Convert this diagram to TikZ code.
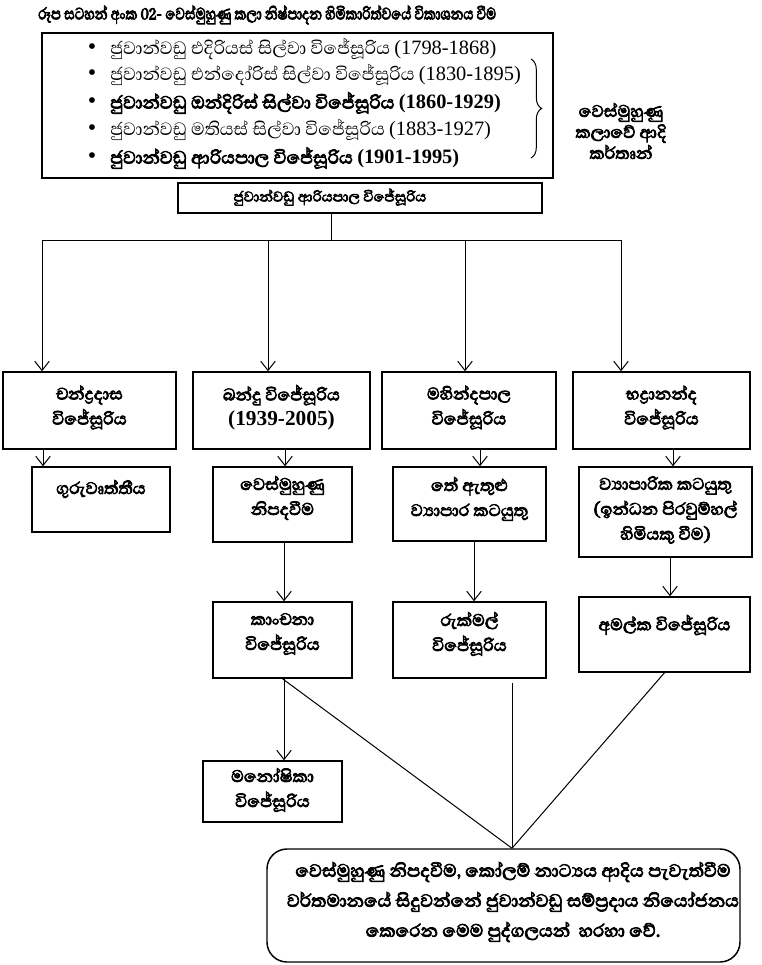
\documentclass[tikz,border=0pt]{standalone}
\usepackage{fontspec}
\setmainfont{Abhaya Libre}[Script=Sinhala, AutoFakeBold=3.5]
\newfontfamily\titlefont{Abhaya Libre}[Script=Sinhala, AutoFakeBold=3.5, FakeStretch=0.78]
\newfontfamily\lat{Liberation Serif}
\usetikzlibrary{arrows.meta,decorations.pathreplacing}
\tikzset{
  frame/.style={draw, line width=1.1pt, inner sep=0pt},
  txt/.style={align=center, inner sep=0pt, font=\bfseries\fontsize{16}{18.75}\selectfont},
  arr/.style={-{Straight Barb[length=7pt,width=11pt]}, line width=0.75pt},
  ln/.style={line width=0.75pt},
  li/.style={anchor=west, inner sep=0pt, font=\fontsize{17}{20}\selectfont},
  lib/.style={anchor=west, inner sep=0pt, font=\bfseries\fontsize{17}{20}\selectfont},
  bul/.style={inner sep=0pt, font=\lat\fontsize{18}{20}\selectfont},
}
\newcommand{\yr}[1]{{\lat\fontsize{15.3}{20}\selectfont #1}}
\begin{document}
\begin{tikzpicture}[x=0.75pt,y=-0.75pt]
\useasboundingbox (0,0) rectangle (762,965);
% title
\node[anchor=west, inner sep=0pt, font=\titlefont\bfseries\fontsize{16}{18}\selectfont] (title) at (38,15)
  {රූප සටහන් අංක 02- වෙස්මුහුණු කලා නිෂ්පාදන හිමිකාරිත්වයේ විකාශනය වීම};
% list box
\node[frame, minimum width=383.25pt, minimum height=108.75pt] (lst) at (297.5,105.5) {};
\node[bul] (b1) at (92,49) {•};
\node[bul] (b2) at (92,75) {•};
\node[bul] (b3) at (92,103) {•};
\node[bul] (b4) at (92,130) {•};
\node[bul] (b5) at (92,158) {•};
\node[li]  (l1) at (110,49) {ජුවාන්වඩු එදිරියස් සිල්වා විජේසූරිය \yr{(1798-1868)}};
\node[li]  (l2) at (110,75) {ජුවාන්වඩු එන්දෝරිස් සිල්වා විජේසූරිය \yr{(1830-1895)}};
\node[lib] (l3) at (110,103) {ජුවාන්වඩු ඔන්දිරිස් සිල්වා විජේසූරිය {\bfseries\yr{(1860-1929)}}};
\node[li]  (l4) at (110,130) {ජුවාන්වඩු මතියස් සිල්වා විජේසූරිය \yr{(1883-1927)}};
\node[lib] (l5) at (110,158) {ජුවාන්වඩු ආරියපාල විජේසූරිය {\bfseries\yr{(1901-1995)}}};
\coordinate (bt) at (531,59);
\coordinate (bb) at (531,158);
\draw[ln, decorate, decoration={brace, amplitude=8pt}] (bt) -- (bb);
\node[txt, font=\bfseries\fontsize{16}{15.75}\selectfont] (kt) at (621,131) {වෙස්මුහුණු\\කලාවේ ආදි\\කර්තෘන්};
% main box
\node[frame, minimum width=273pt, minimum height=22.5pt] (ari) at (360,198) {};
\node[txt, font=\bfseries\fontsize{13.5}{16}\selectfont] (arit) at (330,197) {ජුවාන්වඩු ආරියපාල විජේසූරිය};
% distribution line
\coordinate (hj) at (331,240);
\coordinate (h1) at (42,240);
\coordinate (h2) at (268,240);
\coordinate (h3) at (465,240);
\coordinate (h4) at (621,240);
\draw[ln] (ari.south -| hj) -- (hj);
\draw[ln] (h1) -- (h4);
% row 2
\node[frame, minimum width=129.75pt, minimum height=57.75pt] (A) at (89.5,410.5) {};
\node[frame, minimum width=132.75pt, minimum height=57.75pt] (B) at (281.5,410.5) {};
\node[frame, minimum width=130.5pt, minimum height=57.75pt] (C) at (469,410.5) {};
\node[frame, minimum width=132.75pt, minimum height=57.75pt] (D) at (661.5,410.5) {};
\node[txt] (At) at (89.5,407.5) {චන්ද්‍රදාස\\විජේසූරිය};
\node[txt] (Bt) at (281.5,407.5) {බන්දු විජේසූරිය\\{\lat\bfseries (1939-2005)}};
\node[txt] (Ct) at (469,407.5) {මහින්දපාල\\විජේසූරිය};
\node[txt] (Dt) at (661.5,407.5) {භද්‍රානන්ද\\විජේසූරිය};
\draw[arr] (h1) -- (h1 |- A.north);
\draw[arr] (h2) -- (h2 |- B.north);
\draw[arr] (h3) -- (h3 |- C.north);
\draw[arr] (h4) -- (h4 |- D.north);
% row 3
\node[frame, minimum width=103.5pt, minimum height=48.75pt] (GW) at (101,499.5) {};
\node[frame, minimum width=104.25pt, minimum height=56.25pt] (NP) at (282.5,504.5) {};
\node[frame, minimum width=114.75pt, minimum height=55.5pt] (TE) at (469.5,504) {};
\node[frame, minimum width=129.75pt, minimum height=67.5pt] (VK) at (665.5,512) {};
\node[txt] (GWt) at (101,489) {ගුරුවෘත්තීය};
\node[txt] (NPt) at (282.5,498) {වෙස්මුහුණු\\නිපදවීම};
\node[txt] (TEt) at (469.5,499) {තේ ඇතුළු\\ව්‍යාපාර කටයුතු};
\node[txt] (VKt) at (665.5,510) {ව්‍යාපාරික කටයුතු\\(ඉන්ධන පිරවුම්හල්\\හිමියකු වීම)};
\coordinate (xa) at (43,0);
\coordinate (xb) at (285,0);
\coordinate (xc) at (480,0);
\coordinate (xd) at (673,0);
\draw[arr] (A.south -| xa) -- (GW.north -| xa);
\draw[arr] (B.south -| xb) -- (NP.north -| xb);
\draw[arr] (C.south -| xc) -- (TE.north -| xc);
\draw[arr] (D.south -| xd) -- (VK.north -| xd);
% row 4
\node[frame, minimum width=104.25pt, minimum height=57pt] (KA) at (282.5,640) {};
\node[frame, minimum width=114.75pt, minimum height=57pt] (RU) at (469.5,640) {};
\node[frame, minimum width=128.25pt, minimum height=56.25pt] (AM) at (664.5,634.5) {};
\node[txt] (KAt) at (282.5,634) {කාංචනා\\විජේසූරිය};
\node[txt] (RUt) at (469.5,634) {රුක්මල්\\විජේසූරිය};
\node[txt] (AMt) at (664.5,625) {අමල්ක විජේසූරිය};
\coordinate (xe) at (284,0);
\coordinate (xf) at (474,0);
\coordinate (xg) at (670,0);
\draw[arr] (NP.south -| xe) -- (KA.north -| xe);
\draw[arr] (TE.south -| xf) -- (RU.north -| xf);
\draw[arr] (VK.south -| xg) -- (AM.north -| xg);
% row 5
\node[frame, minimum width=104.25pt, minimum height=45.75pt] (MA) at (272.5,791.5) {};
\node[txt] (MAt) at (272.5,790) {මනෝෂිකා\\විජේසූරිය};
\draw[arr] (KA.south -| xe) -- (MA.north -| xe);
% bottom box
\node[frame, rounded corners=15pt, minimum width=354.75pt, minimum height=84.75pt] (BT) at (503.5,905.5) {};
\node[txt, font=\bfseries\fontsize{17}{22.5}\selectfont] (BTt) at (513,902)
  {වෙස්මුහුණු නිපදවීම, කෝලම් නාට්‍යය ආදිය පැවැත්වීම\\වර්තමානයේ සිදුවන්නේ ජුවාන්වඩු සම්ප්‍රදාය නියෝජනය\\කෙරෙන මෙම පුද්ගලයන්~~හරහා වේ.};
\coordinate (xcv) at (512,0);
\coordinate (cv) at (BT.north -| xcv);
\coordinate (rm) at (512,683);
\draw[ln] (KA.south) -- (cv);
\draw[ln] (rm) -- (cv);
\draw[ln] (AM.south) -- (cv);
\end{tikzpicture}
\end{document}
